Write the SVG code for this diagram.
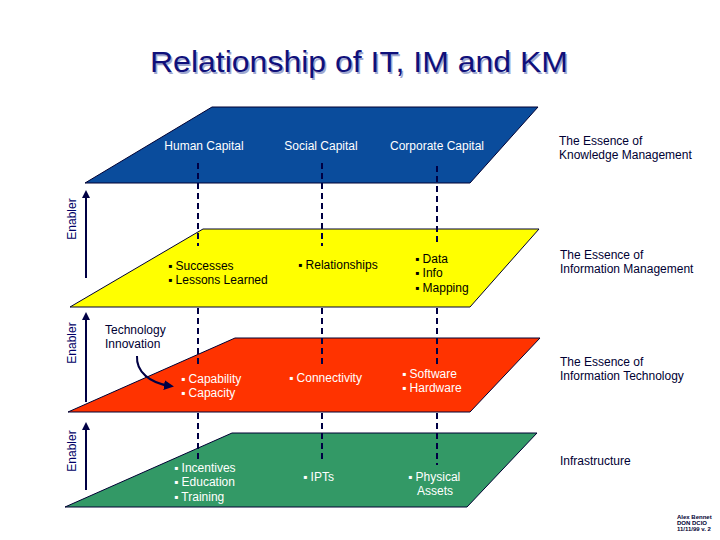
<svg xmlns="http://www.w3.org/2000/svg" width="720" height="540" viewBox="0 0 720 540">
<defs>
<marker id="ah" viewBox="0 0 10 10" refX="5" refY="5" markerWidth="4" markerHeight="4" orient="auto">
<path d="M0,0 L10,5 L0,10 z" fill="#000044"/>
</marker>
<marker id="ah2" viewBox="0 0 10 10" refX="6" refY="5" markerWidth="5" markerHeight="5" orient="auto">
<path d="M0,0 L10,5 L0,10 z" fill="#000044"/>
</marker>
<style>
.t{font-family:"Liberation Sans",Arial,sans-serif;font-size:12px}
.w{fill:#ffffff}
.k{fill:#000000}
.n{fill:#000033}
.plane{stroke:#000033;stroke-width:1}
.dash{stroke:#000044;stroke-width:2;stroke-dasharray:6,4;fill:none}
.en{stroke:#000044;stroke-width:2;fill:none}
.enl{font-family:"Liberation Sans",Arial,sans-serif;font-size:12px;fill:#000066}
</style>
</defs>
<rect width="720" height="540" fill="#ffffff"/>
<g id="title">
<text x="151.5" y="73.5" font-family="Liberation Sans,Arial,sans-serif" font-size="30" fill="#a0a8d0" textLength="418" lengthAdjust="spacingAndGlyphs">Relationship of IT, IM and KM</text>
<text x="150" y="72" font-family="Liberation Sans,Arial,sans-serif" font-size="30" fill="#10107a" textLength="418" lengthAdjust="spacingAndGlyphs">Relationship of IT, IM and KM</text>
</g>
<g id="km-plane">
<polygon class="plane" points="212,107 538,107 470,183 85,183" fill="#0a4c9c"/>
<text class="t w" x="204" y="150" text-anchor="middle">Human Capital</text>
<text class="t w" x="321" y="150" text-anchor="middle">Social Capital</text>
<text class="t w" x="437" y="150" text-anchor="middle">Corporate Capital</text>
</g>
<g id="im-plane">
<polygon class="plane" points="203,229 539,229 470,307 70,307" fill="#ffff00"/>
<text class="t k" x="168" y="270">▪ Successes</text>
<text class="t k" x="168" y="284">▪ Lessons Learned</text>
<text class="t k" x="298" y="269">▪ Relationships</text>
<text class="t k" x="415" y="263">▪ Data</text>
<text class="t k" x="415" y="277">▪ Info</text>
<text class="t k" x="415" y="292">▪ Mapping</text>
</g>
<g id="it-plane">
<polygon class="plane" points="235,338 540,338 470,412 68,412" fill="#ff3300"/>
<text class="t w" x="181" y="383">▪ Capability</text>
<text class="t w" x="181" y="397">▪ Capacity</text>
<text class="t w" x="289" y="382">▪ Connectivity</text>
<text class="t w" x="402" y="378">▪ Software</text>
<text class="t w" x="402" y="392">▪ Hardware</text>
</g>
<g id="infra-plane">
<polygon class="plane" points="232,433 537,433 467,507 65,507" fill="#339966"/>
<text class="t w" x="174" y="472">▪ Incentives</text>
<text class="t w" x="174" y="486">▪ Education</text>
<text class="t w" x="174" y="501">▪ Training</text>
<text class="t w" x="303" y="481">▪ IPTs</text>
<text class="t w" x="408" y="481">▪ Physical</text>
<text class="t w" x="417" y="495">Assets</text>
</g>
<g id="connectors">
<path class="dash" d="M198,163 V246 M198,308 V368 M198,413 V463"/>
<path class="dash" d="M322,163 V246 M322,308 V368 M322,413 V463"/>
<path class="dash" d="M437,166 V244 M437,308 V368 M437,413 V465"/>
<path class="en" d="M86,278 V194" marker-end="url(#ah)"/>
<path class="en" d="M86,402 V316" marker-end="url(#ah)"/>
<path class="en" d="M86,490 V426" marker-end="url(#ah)"/>
<path class="en" d="M137,356 C136,372 150,383 170,386" marker-end="url(#ah2)"/>
</g>
<g id="enabler-labels">
<text class="enl" transform="translate(76,219) rotate(-90)" text-anchor="middle">Enabler</text>
<text class="enl" transform="translate(76,343) rotate(-90)" text-anchor="middle">Enabler</text>
<text class="enl" transform="translate(76,451) rotate(-90)" text-anchor="middle">Enabler</text>
</g>
<g id="tech-innovation">
<text class="t n" x="105" y="334">Technology</text>
<text class="t n" x="105" y="348">Innovation</text>
</g>
<g id="essence-labels">
<text class="t n" x="559" y="145">The Essence of</text>
<text class="t n" x="559" y="159">Knowledge Management</text>
<text class="t n" x="560" y="259">The Essence of</text>
<text class="t n" x="560" y="273">Information Management</text>
<text class="t n" x="560" y="366">The Essence of</text>
<text class="t n" x="560" y="380">Information Technology</text>
<text class="t n" x="560" y="465">Infrastructure</text>
</g>
<g id="footer" font-family="Liberation Sans,Arial,sans-serif" font-size="6" font-weight="bold" fill="#000033">
<text x="677" y="519">Alex Bennet</text>
<text x="677" y="525">DON DCIO</text>
<text x="677" y="531">11/11/99 v. 2</text>
</g>
</svg>
